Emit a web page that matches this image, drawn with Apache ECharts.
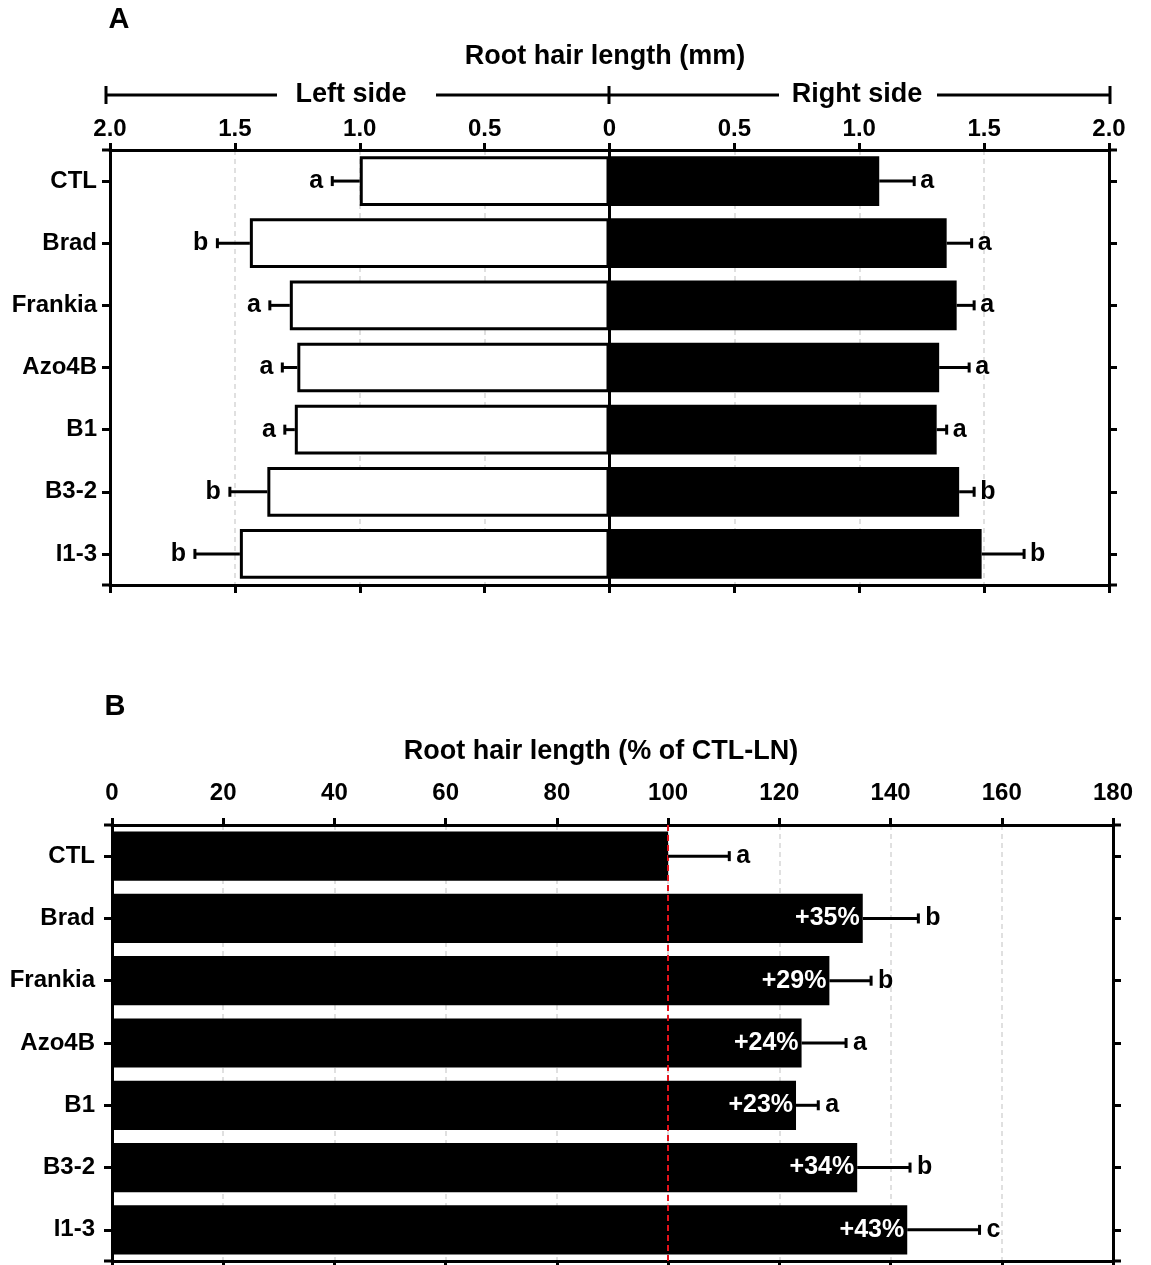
<!DOCTYPE html>
<html><head><meta charset="utf-8">
<script src="https://cdn.jsdelivr.net/npm/echarts@6/dist/echarts.min.js"></script>
<style>html,body{margin:0;padding:0;background:#fff}#c{width:1151px;height:1265px}</style>
</head><body><div id="c"></div>
<script>
// ---------- data ----------
const categories = ['CTL', 'Brad', 'Frankia', 'Azo4B', 'B1', 'B3-2', 'I1-3'];
// Panel A: root hair length (mm)
const leftMean  = [1.00, 1.44, 1.28, 1.25, 1.26, 1.37, 1.48];
const leftErr   = [0.11, 0.13, 0.08, 0.06, 0.04, 0.15, 0.18];
const leftLetters  = ['a', 'b', 'a', 'a', 'a', 'b', 'b'];
const rightMean = [1.08, 1.35, 1.39, 1.32, 1.31, 1.40, 1.49];
const rightErr  = [0.14, 0.10, 0.07, 0.12, 0.04, 0.06, 0.17];
const rightLetters = ['a', 'a', 'a', 'a', 'a', 'b', 'b'];
const mmTickLabels = ['2.0', '1.5', '1.0', '0.5', '0', '0.5', '1.0', '1.5', '2.0'];
// Panel B: root hair length (% of CTL-LN)
const pctMean = [100, 135, 129, 124, 123, 134, 143];
const pctErr  = [11, 10, 7.5, 8, 4, 9.5, 13];
const pctLetters = ['a', 'b', 'b', 'a', 'a', 'b', 'c'];
const pctLabels  = ['', '+35%', '+29%', '+24%', '+23%', '+34%', '+43%'];
const pctTickLabels = ['0', '20', '40', '60', '80', '100', '120', '140', '160', '180'];

// ---------- chart ----------
const FONT = '"Liberation Sans", Arial, Helvetica, sans-serif';
const chart = echarts.init(document.getElementById('c'), null, {renderer: 'canvas'});

const gA = {left: 110, top: 150, width: 999, height: 435};
const gB = {left: 112, top: 825, width: 1001, height: 436};

function errSeries(meanArr, errArr, letters, sign, xi, yi, gap) {
  return {
    type: 'custom', xAxisIndex: xi, yAxisIndex: yi, z: 6, silent: true,
    encode: {x: 1, y: 0},
    data: categories.map((c, i) => [i, meanArr[i], errArr[i]]),
    renderItem(params, api) {
      const i = params.dataIndex;
      const m = api.value(1) * sign, e = api.value(2) * sign;
      const p0 = api.coord([m, i]);
      const p1 = api.coord([m + e, i]);
      const cap = 5;
      return {type: 'group', children: [
        {type: 'line', shape: {x1: p0[0], y1: p0[1], x2: p1[0], y2: p1[1]}, style: {stroke: '#000', lineWidth: 3}},
        {type: 'line', shape: {x1: p1[0], y1: p1[1] - cap, x2: p1[0], y2: p1[1] + cap}, style: {stroke: '#000', lineWidth: 3}},
        {type: 'text', x: p1[0] + (sign > 0 ? gap : -gap), y: p1[1],
          style: {text: letters[i], fill: '#000', font: 'bold 25px ' + FONT,
                  align: sign > 0 ? 'left' : 'right', verticalAlign: 'middle'}}
      ]};
    }
  };
}

const axisLineStyle = {show: true, onZero: false, lineStyle: {color: '#000', width: 3}};
const tickStyle = (len) => ({show: true, inside: false, length: len, lineStyle: {color: '#000', width: 3}});
const gridDash = {show: true, lineStyle: {color: '#d6d6d6', type: [5, 4], width: 1.5}};

function valueAxis(grid, pos, min, max, interval, labels, margin) {
  return {
    type: 'value', gridIndex: grid, position: pos, min, max, interval,
    axisLine: axisLineStyle, axisTick: tickStyle(pos === 'top' ? 7 : 8),
    axisLabel: labels ? {show: true, margin, color: '#000', fontWeight: 'bold', fontSize: 24, fontFamily: FONT,
      formatter: (v, idx) => labels[idx]} : {show: false},
    splitLine: labels ? gridDash : {show: false}
  };
}
function catAxis(grid, pos, showLabels, margin) {
  return {
    type: 'category', gridIndex: grid, position: pos, data: categories, inverse: true,
    axisLine: axisLineStyle,
    axisTick: Object.assign(tickStyle(8), {alignWithLabel: true}),
    axisLabel: showLabels ? {show: true, margin, color: '#000', fontWeight: 'bold', fontSize: 24, fontFamily: FONT} : {show: false},
    splitLine: {show: false}
  };
}

function hline(x1, y1, x2, y2) {
  return {type: 'line', shape: {x1, y1, x2, y2}, style: {stroke: '#000', lineWidth: 3}, z: 10};
}
function txt(x, y, text, size) {
  return {type: 'text', x, y, z: 10, style: {text, fill: '#000', font: 'bold ' + size + 'px ' + FONT, align: 'center', verticalAlign: 'middle'}};
}

const aR = gA.left + gA.width, aB = gA.top + gA.height;
const bR = gB.left + gB.width, bB = gB.top + gB.height;

chart.setOption({
  animation: false,
  backgroundColor: '#fff',
  grid: [
    Object.assign({containLabel: false}, gA),
    Object.assign({containLabel: false}, gB)
  ],
  xAxis: [
    valueAxis(0, 'top', -2, 2, 0.5, mmTickLabels, 9),
    valueAxis(0, 'bottom', -2, 2, 0.5, null),
    valueAxis(1, 'top', 0, 180, 20, pctTickLabels, 20),
    valueAxis(1, 'bottom', 0, 180, 20, null)
  ],
  yAxis: [
    catAxis(0, 'left', true, 13),
    catAxis(0, 'right', false),
    catAxis(1, 'left', true, 17),
    catAxis(1, 'right', false)
  ],
  series: [
    {type: 'bar', xAxisIndex: 0, yAxisIndex: 0, data: leftMean.map(v => -v),
      barCategoryGap: '20%', barGap: '-100%',
      itemStyle: {color: '#fff', borderColor: '#000', borderWidth: 3}, z: 3},
    {type: 'bar', xAxisIndex: 0, yAxisIndex: 0, data: rightMean,
      barCategoryGap: '20%', barGap: '-100%',
      itemStyle: {color: '#000'}, z: 3,
      markLine: {silent: true, symbol: 'none', label: {show: false},
        lineStyle: {color: '#000', type: 'solid', width: 3}, data: [{xAxis: 0}]}},
    errSeries(leftMean, leftErr, leftLetters, -1, 0, 0, 9),
    errSeries(rightMean, rightErr, rightLetters, 1, 0, 0, 6),
    {type: 'bar', xAxisIndex: 2, yAxisIndex: 2, data: pctMean,
      barCategoryGap: '21%', itemStyle: {color: '#000'}, z: 3,
      label: {show: true, position: 'insideRight', distance: 3, color: '#fff', fontWeight: 'bold',
        fontSize: 25, fontFamily: FONT, formatter: p => pctLabels[p.dataIndex]},
      markLine: {silent: true, symbol: 'none', label: {show: false},
        lineStyle: {color: '#e3121b', type: [6, 4], width: 2}, data: [{xAxis: 100}]}},
    errSeries(pctMean, pctErr, pctLetters, 1, 2, 2, 7)
  ],
  graphic: [
    txt(119, 20, 'A', 29),
    txt(115, 707, 'B', 29),
    txt(605, 57, 'Root hair length (mm)', 27),
    txt(351, 95, 'Left side', 27),
    txt(857, 95, 'Right side', 27),
    hline(106, 95, 277, 95),
    hline(436, 95, 609, 95),
    hline(609, 95, 779, 95),
    hline(937, 95, 1110, 95),
    hline(106, 86, 106, 104),
    hline(609, 86, 609, 104),
    hline(1110, 86, 1110, 104),
    txt(601, 752, 'Root hair length (% of CTL-LN)', 27),
    // axis-line overhangs at the corners
    hline(gA.left - 8, gA.top, gA.left, gA.top),
    hline(aR, gA.top, aR + 8, gA.top),
    hline(gA.left - 8, aB, gA.left, aB),
    hline(aR, aB, aR + 8, aB),
    hline(gB.left - 8, gB.top, gB.left, gB.top),
    hline(bR, gB.top, bR + 8, gB.top),
    hline(gB.left - 8, bB, gB.left, bB),
    hline(bR, bB, bR + 8, bB)
  ]
});
</script>
</body></html>
